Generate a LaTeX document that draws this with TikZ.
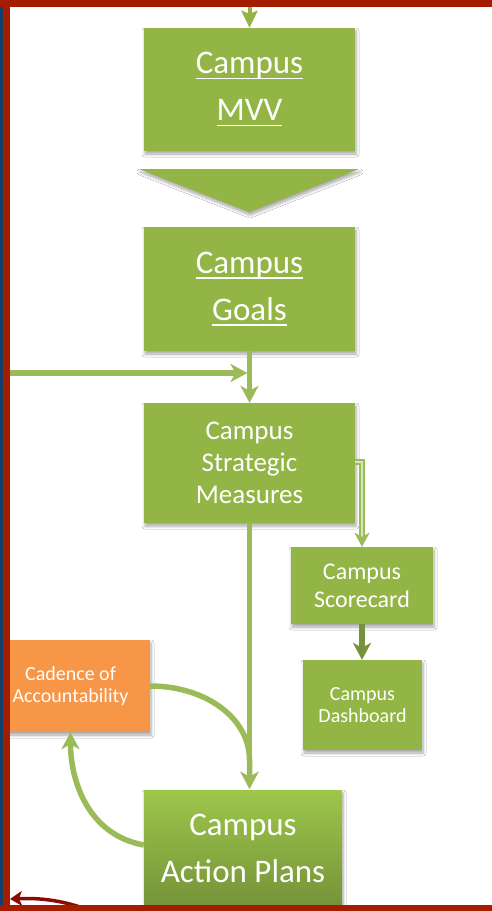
\documentclass[tikz,border=0pt]{standalone}
\usepackage{fontspec}
\setmainfont{Carlito}
\usetikzlibrary{arrows.meta,shadows.blur,calc}
\newcommand{\myul}[1]{\setbox0\hbox{#1}\rlap{\rule[-5.5pt]{\wd0}{1.6pt}}\box0}
\definecolor{boxgreen}{HTML}{93B546}
\definecolor{linegreen}{HTML}{9BBB59}
\definecolor{darkgreen}{HTML}{76923C}
\definecolor{elbowin}{HTML}{D6E6B8}
\definecolor{orangebox}{HTML}{F79646}
\definecolor{borderred}{HTML}{A51D00}
\definecolor{borderblue}{HTML}{143F6B}
\definecolor{arrowred}{HTML}{8E0A00}
\definecolor{aptop}{HTML}{9DC64A}
\definecolor{apbot}{HTML}{76933A}
\tikzset{
  shad/.style={blur shadow={shadow xshift=1pt, shadow yshift=-3pt, shadow blur steps=6, shadow blur radius=3pt, shadow opacity=35}},
  gbox/.style={fill=boxgreen, text=white, inner sep=0pt, align=center, shad},
  obox/.style={fill=orangebox, text=white, inner sep=0pt, align=center, shad},
  tip/.style={-{Stealth[length=17pt,width=18pt,inset=5pt]}},
  conn/.style={draw=linegreen, line width=5.5pt, tip},
  darkconn/.style={draw=darkgreen, line width=5.5pt, tip},
  elbow/.style={draw=linegreen, line width=2.2pt, double=elbowin, double distance=2.5pt,
     -{Stealth[length=14pt,width=15pt,inset=4pt]}},
  bigfont/.style={font=\fontsize{33}{47}\selectfont},
  midfont/.style={font=\fontsize{27}{32}\selectfont},
  scfont/.style={font=\fontsize{24}{28}\selectfont},
  smallfont/.style={font=\fontsize{20}{22.5}\selectfont},
}
\begin{document}
\begin{tikzpicture}[x=1pt,y=-1pt]
\useasboundingbox (0,0) rectangle (492,911);
\fill[white] (0,0) rectangle (492,911);

% boxes
\node[gbox, bigfont, minimum width=211pt, minimum height=123pt] (mvv) at (249.5,89.5) {\myul{Campus}\\\myul{MVV}};
\fill[boxgreen, shad] (139,169) -- (359,169) -- (249,212) -- cycle;
\node[gbox, bigfont, minimum width=211pt, minimum height=124pt] (goals) at (249.5,289) {\myul{Campus}\\\myul{Goals}};
\node[gbox, midfont, minimum width=211pt, minimum height=120pt] (sm) at (249.5,463) {Campus\\Strategic\\Measures};
\node[gbox, scfont, minimum width=142pt, minimum height=77pt] (sc) at (362,585.5) {Campus\\Scorecard};
\node[gbox, smallfont, minimum width=119pt, minimum height=90pt] (db) at (362.5,705) {Campus\\Dashboard};
\node[obox, smallfont, minimum width=159pt, minimum height=92pt] (cad) at (70.5,686) {Cadence of\\Accountability};
\node[top color=aptop, bottom color=apbot, text=white, inner sep=0pt, align=center, shad, bigfont,
      minimum width=198pt, minimum height=116pt] (ap) at (243,848) {Campus\\Action Plans};

% connectors
\coordinate (topin) at (249.5,4);
\draw[line width=4pt, draw=boxgreen, -{Stealth[length=17pt,width=16pt,inset=3pt]}] (topin) -- (mvv.north);
\draw[conn] (goals.south) -- (sm.north);
\coordinate (entry) at (8,373);
\draw[conn] (entry) -- ([xshift=-2pt]entry -| goals.south);
\draw[elbow] ([yshift=1pt]sm.east) -| (sc.north);
\draw[darkconn] (sc.south) -- (sc.south |- db.north);
\coordinate (aptopc) at (sm.south |- ap.north);
\coordinate (apjoin) at ($(aptopc)+(0,-30)$);
\draw[conn] (sm.south) -- ([yshift=1pt]aptopc);
\draw[conn] (cad.east) .. controls +(55,0) and +(0,-42) .. (apjoin) -- ([yshift=1pt]aptopc);
\draw[conn] ([yshift=3pt]ap.west) .. controls +(-55,-10) and +(0,50) .. (cad.south);

% bottom-left red arrow
\coordinate (brs) at (80,907);
\coordinate (bre) at (10,899);
\draw[arrowred, line width=3.5pt, -{Stealth[length=12pt,width=15pt,inset=3pt]}] (brs) .. controls (55,899) and (35,898) .. (bre);

% border
\fill[borderblue] (0,0) rectangle (3,911);
\fill[borderred] (3,0) rectangle (10,911);
\fill[borderred] (0,0) rectangle (492,7);
\fill[borderred] (0,905) rectangle (492,911);
\end{tikzpicture}
\end{document}
